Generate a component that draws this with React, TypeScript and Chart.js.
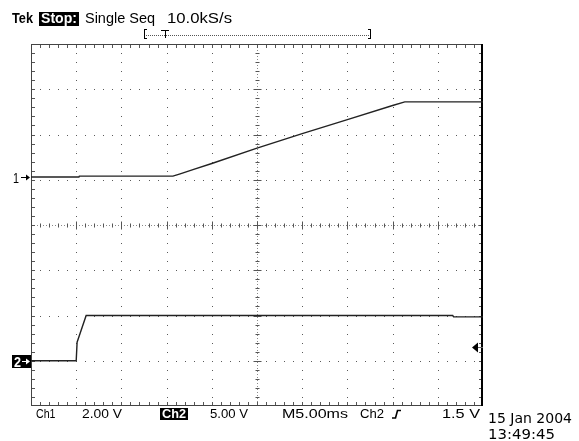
import { useEffect, useRef } from "react";
import { Chart, registerables } from "chart.js";

Chart.register(...registerables);

// ---- data (graticule divisions: x 0..10, y -4..4) ----
const ch1Time = [0, 1.06, 1.07, 3.14, 3.3, 3.6, 4.0, 5.0, 6.0, 7.0, 8.0, 8.27, 10];
const ch1Level = [1.06, 1.06, 1.08, 1.08, 1.13, 1.23, 1.36, 1.7, 2.02, 2.33, 2.64, 2.72, 2.72];
const ch2Time = [0, 1.0, 1.02, 1.22, 9.33, 9.35, 10];
const ch2Level = [-3.0, -3.0, -2.59, -2.0, -2.0, -2.03, -2.03];

const ch1Ground = 1.06;
const ch2Ground = -3.0;
const triggerLevel = -2.7;

const headerTexts = ["Tek", "Stop:", "Single Seq", "10.0kS/s"];
const footerTexts = ["Ch1", "2.00 V", "Ch2", "5.00 V", "M5.00ms", "Ch2", "1.5 V"];
const dateTexts = ["15 Jan 2004", "13:49:45"];
const markerTexts = ["1", "2"];

const X_DIVS = 10;
const Y_DIVS = 8;
const MINOR = 5;

function fitText(
  ctx: CanvasRenderingContext2D,
  text: string,
  x: number,
  base: number,
  w: number,
  font: string,
  color: string
) {
  ctx.save();
  ctx.font = font;
  ctx.fillStyle = color;
  ctx.textAlign = "left";
  ctx.textBaseline = "alphabetic";
  const m = ctx.measureText(text).width || 1;
  ctx.translate(x, base);
  ctx.scale(w / m, 1);
  ctx.fillText(text, 0, 0);
  ctx.restore();
}

function seg(ctx: CanvasRenderingContext2D, x1: number, y1: number, x2: number, y2: number) {
  ctx.beginPath();
  ctx.moveTo(x1, y1);
  ctx.lineTo(x2, y2);
  ctx.stroke();
}

const graticule = {
  id: "graticule",
  beforeDatasetsDraw(chart: any) {
    const { ctx, chartArea } = chart;
    const { left, right, top, bottom } = chartArea;
    const xs = chart.scales.x;
    const ys = chart.scales.y;
    const px = (v: number) => Math.round(xs.getPixelForValue(v));
    const py = (v: number) => Math.round(ys.getPixelForValue(v));
    ctx.save();
    // grid dots
    ctx.fillStyle = "#5a5a5a";
    for (let i = 1; i < X_DIVS; i++) {
      if (i === X_DIVS / 2) continue;
      const X = px(i);
      for (let j = -Y_DIVS / 2 * MINOR + 1; j < Y_DIVS / 2 * MINOR; j++) {
        ctx.fillRect(X, py(j / MINOR), 1, 1);
      }
    }
    for (let j = -Y_DIVS / 2 + 1; j < Y_DIVS / 2; j++) {
      if (j === 0) continue;
      const Y = py(j);
      for (let k = 1; k < X_DIVS * MINOR; k++) {
        ctx.fillRect(px(k / MINOR), Y, 1, 1);
      }
    }
    // center cross
    const cx = px(X_DIVS / 2) + 0.5;
    const cy = py(0) + 0.5;
    ctx.lineWidth = 1;
    ctx.strokeStyle = "#8a8a8a";
    ctx.setLineDash([1, 2]);
    seg(ctx, left, cy, right, cy);
    seg(ctx, cx, top, cx, bottom);
    ctx.setLineDash([]);
    ctx.strokeStyle = "#555";
    for (let k = 1; k < X_DIVS * MINOR; k++) {
      const X = px(k / MINOR) + 0.5;
      const len = k % MINOR === 0 ? 4 : 2;
      seg(ctx, X, cy - len, X, cy + len);
      seg(ctx, X, top, X, top + 4);
      seg(ctx, X, bottom - 4, X, bottom);
    }
    for (let j = -Y_DIVS / 2 * MINOR + 1; j < Y_DIVS / 2 * MINOR; j++) {
      const Y = py(j / MINOR) + 0.5;
      const len = j % MINOR === 0 ? 4 : 2;
      seg(ctx, cx - len, Y, cx + len, Y);
      seg(ctx, left, Y, left + 4, Y);
      seg(ctx, right - 4, Y, right, Y);
    }
    // border
    ctx.strokeStyle = "#444";
    ctx.lineWidth = 1;
    seg(ctx, left + 0.5, top + 0.5, right, top + 0.5);
    seg(ctx, left + 0.5, top, left + 0.5, bottom);
    seg(ctx, left, bottom - 0.5, right, bottom - 0.5);
    ctx.strokeStyle = "#000";
    ctx.lineWidth = 2;
    seg(ctx, right - 1, top, right - 1, bottom);
    ctx.restore();
  },
};

const annotations = {
  id: "annotations",
  afterDraw(chart: any) {
    const { ctx } = chart;
    const ys = chart.scales.y;
    const { right } = chart.chartArea;
    ctx.save();
    const scopeFont = "14px 'Liberation Sans'";
    const boldFont = "bold 14px 'Liberation Sans'";
    // header
    fitText(ctx, headerTexts[0], 12, 23, 21, boldFont, "#000");
    ctx.fillStyle = "#000";
    ctx.fillRect(39, 12, 40, 14);
    fitText(ctx, headerTexts[1], 41, 23, 36, boldFont, "#fff");
    fitText(ctx, headerTexts[2], 85, 23, 70, scopeFont, "#000");
    fitText(ctx, headerTexts[3], 167, 23, 65, scopeFont, "#000");

    // record view bracket
    ctx.strokeStyle = "#000";
    ctx.lineWidth = 1;
    seg(ctx, 144.5, 29, 144.5, 39);
    seg(ctx, 144, 29.5, 147, 29.5);
    seg(ctx, 144, 38.5, 147, 38.5);
    seg(ctx, 370.5, 29, 370.5, 39);
    seg(ctx, 368, 29.5, 371, 29.5);
    seg(ctx, 368, 38.5, 371, 38.5);
    ctx.strokeStyle = "#555";
    ctx.setLineDash([1, 1]);
    seg(ctx, 146, 35.5, 369, 35.5);
    ctx.setLineDash([]);
    ctx.strokeStyle = "#000";
    seg(ctx, 161, 30.5, 169, 30.5);
    seg(ctx, 165.5, 30, 165.5, 38);

    // footer
    const fy = 418;
    const ff = "13px 'Liberation Sans'";
    fitText(ctx, footerTexts[0], 36, fy, 19.5, ff, "#000");
    fitText(ctx, footerTexts[1], 82, fy, 40, ff, "#000");
    ctx.fillStyle = "#000";
    ctx.fillRect(160, 408, 28, 12);
    fitText(ctx, footerTexts[2], 162, fy, 24, "bold 13px 'Liberation Sans'", "#fff");
    fitText(ctx, footerTexts[3], 210, fy, 38, ff, "#000");
    fitText(ctx, footerTexts[4], 282, fy, 66, ff, "#000");
    fitText(ctx, footerTexts[5], 360, fy, 24, ff, "#000");
    // rising edge symbol
    ctx.strokeStyle = "#000";
    ctx.lineWidth = 1.6;
    ctx.beginPath();
    ctx.moveTo(392, 418);
    ctx.lineTo(395.5, 418);
    ctx.lineTo(397.5, 410.5);
    ctx.lineTo(401, 410.5);
    ctx.stroke();
    fitText(ctx, footerTexts[6], 442, fy, 38, ff, "#000");

    // date
    fitText(ctx, dateTexts[0], 488, 423, 84, "14px 'DejaVu Sans'", "#000");
    fitText(ctx, dateTexts[1], 488, 439, 67, "14px 'DejaVu Sans'", "#000");

    // channel ground markers
    const y1 = Math.round(ys.getPixelForValue(ch1Ground)) + 0.5;
    fitText(ctx, markerTexts[0], 13, y1 + 5, 6, "14px 'Liberation Sans'", "#000");
    ctx.strokeStyle = "#000";
    ctx.lineWidth = 1;
    seg(ctx, 21, y1, 29, y1);
    ctx.beginPath();
    ctx.moveTo(30, y1);
    ctx.lineTo(26, y1 - 3);
    ctx.lineTo(26, y1 + 3);
    ctx.closePath();
    ctx.fillStyle = "#000";
    ctx.fill();

    const y2 = Math.round(ys.getPixelForValue(ch2Ground)) + 0.5;
    ctx.fillStyle = "#000";
    ctx.fillRect(12, y2 - 6.5, 19, 13);
    fitText(ctx, markerTexts[1], 14, y2 + 5, 7, "bold 14px 'Liberation Sans'", "#fff");
    ctx.strokeStyle = "#fff";
    seg(ctx, 22, y2, 28, y2);
    ctx.beginPath();
    ctx.moveTo(30, y2);
    ctx.lineTo(26, y2 - 3);
    ctx.lineTo(26, y2 + 3);
    ctx.closePath();
    ctx.fillStyle = "#fff";
    ctx.fill();

    // trigger level marker
    const yt = Math.round(ys.getPixelForValue(triggerLevel)) + 0.5;
    ctx.fillStyle = "#000";
    ctx.beginPath();
    ctx.moveTo(472, yt);
    ctx.lineTo(478, yt - 5);
    ctx.lineTo(478, yt + 5);
    ctx.closePath();
    ctx.fill();
    ctx.strokeStyle = "#666";
    ctx.lineWidth = 1;
    seg(ctx, 478, yt, right, yt);
    ctx.restore();
  },
};

export default function App() {
  const ref = useRef<HTMLCanvasElement>(null);
  useEffect(() => {
    const canvas = ref.current;
    if (!canvas) return;
    const chart = new Chart(canvas, {
      type: "scatter",
      data: {
        datasets: [
          {
            label: "Ch1",
            data: ch1Time.map((t, i) => ({ x: t, y: ch1Level[i] })),
            showLine: true,
            borderColor: "#222",
            borderWidth: 1.4,
            pointRadius: 0,
            tension: 0,
          },
          {
            label: "Ch2",
            data: ch2Time.map((t, i) => ({ x: t, y: ch2Level[i] })),
            showLine: true,
            borderColor: "#222",
            borderWidth: 1.4,
            pointRadius: 0,
            tension: 0,
          },
        ],
      },
      options: {
        responsive: false,
        animation: false,
        events: [],
        devicePixelRatio: 1,
        layout: { padding: { left: 31, top: 44, right: 96, bottom: 35 } },
        scales: {
          x: { type: "linear", min: 0, max: X_DIVS, display: false },
          y: { type: "linear", min: -Y_DIVS / 2, max: Y_DIVS / 2, display: false },
        },
        plugins: { legend: { display: false }, tooltip: { enabled: false } },
      },
      plugins: [graticule, annotations],
    });
    return () => chart.destroy();
  }, []);
  return (
    <div style={{ position: "fixed", left: 0, top: 0, width: 579, height: 441, background: "#fff" }}>
      <canvas ref={ref} width={579} height={441} style={{ display: "block" }} />
    </div>
  );
}
